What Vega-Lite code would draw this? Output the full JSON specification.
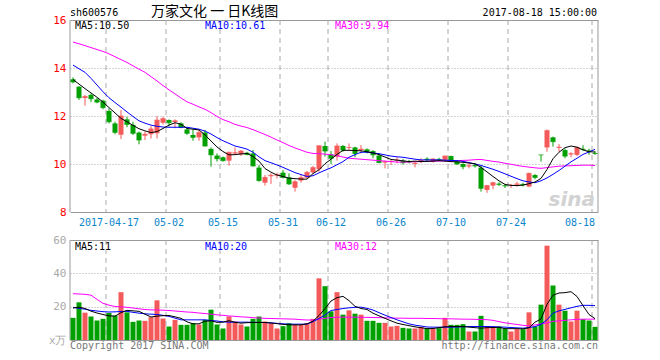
{
"$schema": "https://vega.github.io/schema/vega-lite/v6.json",
"autosize": {"type": "none"},
"padding": {"left": 70, "top": 20, "right": 62, "bottom": 20},
"background": "white",
"width": 528, "height": 320,
"config": {"view": {"stroke": null}, "font": "DejaVu Sans Mono", "text": {"font": "DejaVu Sans Mono", "fontSize": 10}},
"datasets": {
"g": [{"d":"2017-04-17"},{"d":"2017-05-02"},{"d":"2017-05-15"},{"d":"2017-05-31"},{"d":"2017-06-12"},{"d":"2017-06-26"},{"d":"2017-07-10"},{"d":"2017-07-24"},{"d":"2017-08-18"}],
"k": [
{"d":"2017-04-07","o":13.53,"h":13.61,"l":13.36,"c":13.42,"m5":13.52,"m10":14.12,"m30":15.08,"v":13.3,"v5":19.2,"v10":19.6,"v30":27.8},
{"d":"2017-04-10","o":13.22,"h":13.25,"l":12.67,"c":12.76,"m5":13.33,"m10":13.97,"m30":15.01,"v":22.6,"v5":19.7,"v10":19.0,"v30":27.6},
{"d":"2017-04-11","o":12.75,"h":12.88,"l":12.43,"c":12.81,"m5":13.14,"m10":13.82,"m30":14.93,"v":16.4,"v5":18.9,"v10":18.5,"v30":27.4},
{"d":"2017-04-12","o":12.88,"h":12.94,"l":12.58,"c":12.72,"m5":12.96,"m10":13.57,"m30":14.85,"v":14.1,"v5":17.3,"v10":17.8,"v30":26.9},
{"d":"2017-04-13","o":12.69,"h":12.75,"l":12.53,"c":12.58,"m5":12.78,"m10":13.29,"m30":14.77,"v":11.7,"v5":16.2,"v10":17.4,"v30":24.4},
{"d":"2017-04-14","o":12.64,"h":12.68,"l":12.28,"c":12.35,"m5":12.58,"m10":13.01,"m30":14.69,"v":12.7,"v5":15.3,"v10":17.0,"v30":22.0},
{"d":"2017-04-17","o":12.21,"h":12.32,"l":11.69,"c":11.76,"m5":12.35,"m10":12.76,"m30":14.59,"v":16.2,"v5":14.5,"v10":16.8,"v30":20.9},
{"d":"2017-04-18","o":11.69,"h":11.76,"l":11.24,"c":11.32,"m5":12.13,"m10":12.56,"m30":14.47,"v":14.7,"v5":14.3,"v10":16.9,"v30":20.1},
{"d":"2017-04-19","o":11.22,"h":12.25,"l":11.04,"c":12.00,"m5":11.90,"m10":12.37,"m30":14.35,"v":28.7,"v5":16.4,"v10":17.1,"v30":19.9},
{"d":"2017-04-20","o":11.86,"h":11.97,"l":11.53,"c":11.65,"m5":11.76,"m10":12.17,"m30":14.23,"v":16.6,"v5":17.8,"v10":17.2,"v30":19.6},
{"d":"2017-04-21","o":11.63,"h":11.76,"l":11.21,"c":11.28,"m5":11.61,"m10":11.98,"m30":14.09,"v":10.9,"v5":17.5,"v10":16.6,"v30":19.2},
{"d":"2017-04-24","o":11.31,"h":11.35,"l":10.82,"c":11.00,"m5":11.47,"m10":11.80,"m30":13.95,"v":11.7,"v5":17.2,"v10":16.1,"v30":18.7},
{"d":"2017-04-25","o":11.18,"h":11.35,"l":11.00,"c":11.24,"m5":11.38,"m10":11.70,"m30":13.82,"v":11.5,"v5":15.5,"v10":15.7,"v30":18.3},
{"d":"2017-04-26","o":11.24,"h":11.58,"l":11.06,"c":11.46,"m5":11.31,"m10":11.62,"m30":13.64,"v":13.7,"v5":13.8,"v10":15.5,"v30":18.1},
{"d":"2017-04-27","o":11.28,"h":12.00,"l":11.06,"c":11.83,"m5":11.35,"m10":11.57,"m30":13.46,"v":23.8,"v5":14.3,"v10":15.3,"v30":18.0},
{"d":"2017-04-28","o":11.72,"h":11.97,"l":11.65,"c":11.89,"m5":11.48,"m10":11.54,"m30":13.27,"v":12.9,"v5":14.6,"v10":14.8,"v30":17.9},
{"d":"2017-05-02","o":11.83,"h":11.86,"l":11.56,"c":11.72,"m5":11.62,"m10":11.53,"m30":13.09,"v":8.1,"v5":14.7,"v10":14.2,"v30":17.7},
{"d":"2017-05-03","o":11.75,"h":11.86,"l":11.49,"c":11.80,"m5":11.72,"m10":11.53,"m30":12.92,"v":12.1,"v5":13.9,"v10":13.1,"v30":17.4},
{"d":"2017-05-04","o":11.69,"h":11.74,"l":11.49,"c":11.53,"m5":11.66,"m10":11.53,"m30":12.75,"v":9.1,"v5":13.0,"v10":12.1,"v30":17.1},
{"d":"2017-05-05","o":11.44,"h":11.53,"l":11.21,"c":11.28,"m5":11.48,"m10":11.53,"m30":12.59,"v":9.1,"v5":10.9,"v10":12.1,"v30":16.8},
{"d":"2017-05-08","o":11.21,"h":11.44,"l":10.97,"c":11.11,"m5":11.45,"m10":11.49,"m30":12.49,"v":10.1,"v5":9.7,"v10":12.1,"v30":16.6},
{"d":"2017-05-09","o":11.11,"h":11.44,"l":10.97,"c":11.31,"m5":11.42,"m10":11.45,"m30":12.38,"v":9.3,"v5":9.7,"v10":12.1,"v30":16.2},
{"d":"2017-05-10","o":11.31,"h":11.42,"l":10.72,"c":10.75,"m5":11.21,"m10":11.37,"m30":12.28,"v":12.1,"v5":11.3,"v10":12.1,"v30":15.9},
{"d":"2017-05-11","o":10.63,"h":10.69,"l":9.89,"c":10.38,"m5":10.96,"m10":11.25,"m30":12.14,"v":18.2,"v5":11.5,"v10":11.7,"v30":15.5},
{"d":"2017-05-12","o":10.35,"h":10.44,"l":10.10,"c":10.22,"m5":10.71,"m10":11.10,"m30":11.98,"v":9.3,"v5":10.6,"v10":11.4,"v30":15.1},
{"d":"2017-05-15","o":10.28,"h":10.31,"l":10.10,"c":10.14,"m5":10.52,"m10":10.97,"m30":11.85,"v":6.9,"v5":10.7,"v10":10.9,"v30":14.8},
{"d":"2017-05-16","o":10.14,"h":10.51,"l":9.93,"c":10.49,"m5":10.38,"m10":10.86,"m30":11.76,"v":14.1,"v5":11.6,"v10":10.7,"v30":14.4},
{"d":"2017-05-17","o":10.44,"h":10.69,"l":10.38,"c":10.47,"m5":10.39,"m10":10.75,"m30":11.65,"v":11.1,"v5":10.6,"v10":10.7,"v30":14.2},
{"d":"2017-05-18","o":10.40,"h":10.58,"l":10.33,"c":10.54,"m5":10.42,"m10":10.69,"m30":11.58,"v":9.3,"v5":10.1,"v10":10.7,"v30":13.9},
{"d":"2017-05-19","o":10.47,"h":10.51,"l":10.36,"c":10.40,"m5":10.44,"m10":10.62,"m30":11.52,"v":8.1,"v5":10.4,"v10":10.7,"v30":13.7},
{"d":"2017-05-22","o":10.44,"h":10.58,"l":9.89,"c":9.92,"m5":10.31,"m10":10.49,"m30":11.43,"v":12.7,"v5":10.5,"v10":10.6,"v30":13.4},
{"d":"2017-05-23","o":9.85,"h":9.96,"l":9.26,"c":9.31,"m5":10.12,"m10":10.30,"m30":11.33,"v":14.1,"v5":10.5,"v10":10.6,"v30":13.2},
{"d":"2017-05-24","o":9.22,"h":9.54,"l":9.10,"c":9.44,"m5":9.81,"m10":10.14,"m30":11.23,"v":11.1,"v5":10.5,"v10":10.5,"v30":13.0},
{"d":"2017-05-25","o":9.49,"h":9.61,"l":9.17,"c":9.53,"m5":9.66,"m10":10.05,"m30":11.12,"v":10.1,"v5":10.2,"v10":10.3,"v30":12.9},
{"d":"2017-05-26","o":9.52,"h":9.64,"l":9.40,"c":9.55,"m5":9.54,"m10":9.96,"m30":11.00,"v":6.9,"v5":9.8,"v10":10.0,"v30":12.8},
{"d":"2017-05-31","o":9.64,"h":9.75,"l":9.40,"c":9.44,"m5":9.48,"m10":9.86,"m30":10.89,"v":8.3,"v5":9.4,"v10":9.7,"v30":12.7},
{"d":"2017-06-01","o":9.44,"h":9.61,"l":9.13,"c":9.17,"m5":9.41,"m10":9.75,"m30":10.77,"v":10.1,"v5":9.1,"v10":9.5,"v30":12.6},
{"d":"2017-06-02","o":9.01,"h":9.33,"l":8.85,"c":9.26,"m5":9.39,"m10":9.64,"m30":10.67,"v":9.1,"v5":9.1,"v10":9.5,"v30":12.5},
{"d":"2017-06-05","o":9.31,"h":9.54,"l":9.22,"c":9.43,"m5":9.37,"m10":9.56,"m30":10.58,"v":9.1,"v5":9.1,"v10":9.5,"v30":12.2},
{"d":"2017-06-06","o":9.43,"h":9.71,"l":9.40,"c":9.65,"m5":9.37,"m10":9.48,"m30":10.49,"v":10.1,"v5":9.7,"v10":9.5,"v30":12.0},
{"d":"2017-06-07","o":9.65,"h":9.92,"l":9.58,"c":9.85,"m5":9.60,"m10":9.51,"m30":10.44,"v":12.7,"v5":11.3,"v10":11.0,"v30":12.0},
{"d":"2017-06-08","o":9.78,"h":10.77,"l":9.68,"c":10.76,"m5":9.76,"m10":9.63,"m30":10.43,"v":37.0,"v5":14.7,"v10":12.9,"v30":12.5},
{"d":"2017-06-09","o":10.75,"h":10.93,"l":10.31,"c":10.54,"m5":10.01,"m10":9.74,"m30":10.41,"v":32.3,"v5":18.8,"v10":15.0,"v30":13.0},
{"d":"2017-06-12","o":10.40,"h":10.54,"l":10.00,"c":10.24,"m5":10.20,"m10":9.84,"m30":10.39,"v":17.2,"v5":23.4,"v10":17.7,"v30":13.4},
{"d":"2017-06-13","o":10.31,"h":10.86,"l":10.14,"c":10.75,"m5":10.40,"m10":9.97,"m30":10.34,"v":28.7,"v5":25.4,"v10":18.3,"v30":13.7},
{"d":"2017-06-14","o":10.75,"h":10.79,"l":10.51,"c":10.58,"m5":10.57,"m10":10.10,"m30":10.29,"v":15.2,"v5":26.2,"v10":18.9,"v30":13.7},
{"d":"2017-06-15","o":10.67,"h":10.86,"l":10.58,"c":10.69,"m5":10.57,"m10":10.28,"m30":10.24,"v":17.8,"v5":23.6,"v10":19.3,"v30":13.7},
{"d":"2017-06-16","o":10.69,"h":10.72,"l":10.28,"c":10.44,"m5":10.56,"m10":10.39,"m30":10.22,"v":15.8,"v5":20.2,"v10":19.6,"v30":13.7},
{"d":"2017-06-19","o":10.58,"h":10.79,"l":10.44,"c":10.62,"m5":10.55,"m10":10.49,"m30":10.20,"v":15.2,"v5":18.9,"v10":19.7,"v30":13.6},
{"d":"2017-06-20","o":10.61,"h":10.65,"l":10.44,"c":10.52,"m5":10.51,"m10":10.49,"m30":10.18,"v":11.5,"v5":18.3,"v10":19.0,"v30":13.6},
{"d":"2017-06-21","o":10.54,"h":10.58,"l":10.24,"c":10.38,"m5":10.46,"m10":10.46,"m30":10.16,"v":11.5,"v5":16.1,"v10":18.0,"v30":13.5},
{"d":"2017-06-22","o":10.35,"h":10.44,"l":10.03,"c":10.06,"m5":10.39,"m10":10.43,"m30":10.14,"v":10.3,"v5":14.5,"v10":16.4,"v30":13.4},
{"d":"2017-06-23","o":10.06,"h":10.14,"l":9.82,"c":10.10,"m5":10.29,"m10":10.38,"m30":10.12,"v":10.3,"v5":13.0,"v10":14.9,"v30":13.3},
{"d":"2017-06-26","o":10.09,"h":10.17,"l":9.96,"c":10.11,"m5":10.19,"m10":10.33,"m30":10.10,"v":8.1,"v5":11.5,"v10":13.5,"v30":13.2},
{"d":"2017-06-27","o":10.15,"h":10.28,"l":10.03,"c":10.17,"m5":10.16,"m10":10.30,"m30":10.08,"v":8.5,"v5":10.1,"v10":12.1,"v30":13.1},
{"d":"2017-06-28","o":10.14,"h":10.21,"l":9.98,"c":10.05,"m5":10.13,"m10":10.28,"m30":10.08,"v":7.3,"v5":9.3,"v10":10.9,"v30":13.1},
{"d":"2017-06-29","o":10.12,"h":10.17,"l":10.03,"c":10.08,"m5":10.10,"m10":10.24,"m30":10.08,"v":6.9,"v5":8.6,"v10":9.7,"v30":13.0},
{"d":"2017-06-30","o":10.01,"h":10.10,"l":9.86,"c":10.04,"m5":10.12,"m10":10.20,"m30":10.10,"v":6.9,"v5":7.9,"v10":8.9,"v30":13.0},
{"d":"2017-07-03","o":10.12,"h":10.24,"l":10.04,"c":10.16,"m5":10.10,"m10":10.17,"m30":10.10,"v":7.9,"v5":7.4,"v10":8.4,"v30":13.0},
{"d":"2017-07-04","o":10.22,"h":10.28,"l":10.10,"c":10.18,"m5":10.11,"m10":10.17,"m30":10.11,"v":6.9,"v5":6.8,"v10":7.8,"v30":12.9},
{"d":"2017-07-05","o":10.10,"h":10.24,"l":10.06,"c":10.21,"m5":10.12,"m10":10.17,"m30":10.12,"v":6.7,"v5":6.9,"v10":7.7,"v30":12.9},
{"d":"2017-07-06","o":10.21,"h":10.26,"l":10.13,"c":10.19,"m5":10.14,"m10":10.17,"m30":10.12,"v":7.1,"v5":7.4,"v10":7.7,"v30":12.8},
{"d":"2017-07-07","o":10.17,"h":10.35,"l":10.14,"c":10.33,"m5":10.12,"m10":10.16,"m30":10.13,"v":13.3,"v5":7.9,"v10":7.7,"v30":12.7},
{"d":"2017-07-10","o":10.33,"h":10.35,"l":10.10,"c":10.17,"m5":10.10,"m10":10.15,"m30":10.13,"v":9.1,"v5":8.1,"v10":7.7,"v30":12.7},
{"d":"2017-07-11","o":10.10,"h":10.14,"l":9.96,"c":10.00,"m5":10.09,"m10":10.14,"m30":10.14,"v":9.1,"v5":8.1,"v10":7.8,"v30":12.6},
{"d":"2017-07-12","o":10.00,"h":10.03,"l":9.78,"c":9.89,"m5":10.07,"m10":10.11,"m30":10.15,"v":9.5,"v5":8.1,"v10":7.9,"v30":12.5},
{"d":"2017-07-13","o":9.90,"h":10.03,"l":9.82,"c":9.93,"m5":10.04,"m10":10.06,"m30":10.16,"v":5.1,"v5":7.7,"v10":8.1,"v30":12.5},
{"d":"2017-07-14","o":9.95,"h":10.03,"l":9.85,"c":9.92,"m5":10.01,"m10":10.00,"m30":10.18,"v":5.1,"v5":7.4,"v10":8.1,"v30":12.4},
{"d":"2017-07-17","o":9.85,"h":9.92,"l":8.85,"c":8.99,"m5":9.86,"m10":9.94,"m30":10.19,"v":14.5,"v5":7.1,"v10":8.1,"v30":12.3},
{"d":"2017-07-18","o":8.92,"h":9.13,"l":8.80,"c":9.10,"m5":9.67,"m10":9.86,"m30":10.15,"v":8.1,"v5":7.4,"v10":8.1,"v30":12.2},
{"d":"2017-07-19","o":9.10,"h":9.26,"l":8.95,"c":9.22,"m5":9.48,"m10":9.78,"m30":10.11,"v":8.1,"v5":7.5,"v10":8.0,"v30":11.8},
{"d":"2017-07-20","o":9.18,"h":9.24,"l":9.08,"c":9.15,"m5":9.30,"m10":9.69,"m30":10.08,"v":8.1,"v5":7.6,"v10":7.8,"v30":11.0},
{"d":"2017-07-21","o":9.11,"h":9.15,"l":9.00,"c":9.09,"m5":9.15,"m10":9.59,"m30":10.03,"v":6.7,"v5":6.8,"v10":7.7,"v30":10.3},
{"d":"2017-07-24","o":9.09,"h":9.17,"l":9.00,"c":9.11,"m5":9.11,"m10":9.49,"m30":9.99,"v":5.1,"v5":6.8,"v10":7.5,"v30":9.8},
{"d":"2017-07-25","o":9.14,"h":9.26,"l":9.06,"c":9.17,"m5":9.10,"m10":9.39,"m30":9.94,"v":6.5,"v5":6.8,"v10":7.3,"v30":9.3},
{"d":"2017-07-26","o":9.17,"h":9.22,"l":9.06,"c":9.14,"m5":9.12,"m10":9.30,"m30":9.90,"v":6.5,"v5":6.7,"v10":7.1,"v30":8.8},
{"d":"2017-07-27","o":9.06,"h":9.64,"l":9.03,"c":9.61,"m5":9.18,"m10":9.25,"m30":9.87,"v":16.6,"v5":7.3,"v10":7.5,"v30":8.5},
{"d":"2017-07-28","o":9.54,"h":9.58,"l":9.36,"c":9.44,"m5":9.25,"m10":9.22,"m30":9.84,"v":8.1,"v5":10.7,"v10":8.0,"v30":9.0},
{"d":"2017-08-07","o":10.38,"h":10.38,"l":10.10,"c":10.38,"m5":9.40,"m10":9.30,"m30":9.82,"v":21.2,"v5":12.6,"v10":9.4,"v30":9.7},
{"d":"2017-08-08","o":10.69,"h":11.44,"l":10.51,"c":11.39,"m5":9.77,"m10":9.42,"m30":9.85,"v":56.6,"v5":21.4,"v10":12.1,"v30":10.2},
{"d":"2017-08-09","o":11.11,"h":11.14,"l":10.72,"c":10.93,"m5":10.22,"m10":9.57,"m30":9.88,"v":32.7,"v5":26.9,"v10":16.1,"v30":11.2},
{"d":"2017-08-10","o":10.67,"h":10.83,"l":10.51,"c":10.70,"m5":10.49,"m10":9.73,"m30":9.91,"v":21.2,"v5":28.2,"v10":17.5,"v30":11.5},
{"d":"2017-08-11","o":10.58,"h":10.65,"l":10.24,"c":10.33,"m5":10.68,"m10":9.91,"m30":9.92,"v":17.6,"v5":28.4,"v10":18.4,"v30":11.8},
{"d":"2017-08-14","o":10.40,"h":10.49,"l":10.28,"c":10.43,"m5":10.75,"m10":10.09,"m30":9.93,"v":11.1,"v5":29.0,"v10":19.3,"v30":12.1},
{"d":"2017-08-15","o":10.38,"h":10.72,"l":10.33,"c":10.69,"m5":10.70,"m10":10.24,"m30":9.94,"v":17.6,"v5":26.1,"v10":20.2,"v30":12.4},
{"d":"2017-08-16","o":10.63,"h":10.78,"l":10.54,"c":10.61,"m5":10.59,"m10":10.40,"m30":9.95,"v":12.5,"v5":20.6,"v10":20.8,"v30":12.5},
{"d":"2017-08-17","o":10.56,"h":10.64,"l":10.38,"c":10.53,"m5":10.51,"m10":10.50,"m30":9.95,"v":11.7,"v5":15.3,"v10":20.8,"v30":12.5},
{"d":"2017-08-18","o":10.46,"h":10.54,"l":10.38,"c":10.44,"m5":10.50,"m10":10.61,"m30":9.94,"v":7.9,"v5":12.8,"v10":20.6,"v30":12.5}
]},
"data": {"name": "k"},
"encoding": {"x": {"field": "d", "type": "ordinal", "scale": {"type": "band", "paddingInner": 0, "paddingOuter": 0},
  "axis": {"values": ["2017-04-17","2017-05-02","2017-05-15","2017-05-31","2017-06-12","2017-06-26","2017-07-10","2017-07-24","2017-08-18"],
   "labelExpr": "datum.value == '2017-04-17' ? datum.value : slice(datum.value, 5)",
   "bandPosition": 0, "offset": -128, "ticks": false, "domain": false, "grid": false,
   "labelColor": "#0a86cc", "labelFont": "DejaVu Sans Mono", "labelFontSize": 10, "labelAngle": 0, "labelPadding": 5, "title": null,
   "labelAlign": {"condition": {"test": "datum.value == '2017-08-18'", "value": "right"}, "value": "center"}}}},
"layer": [
{
"layer": [
 {"data": {"name": "g"}, "mark": {"type": "rule", "color": "#aaa", "strokeDash": [5, 4]},
  "encoding": {"x": {"field": "d", "type": "ordinal", "bandPosition": 0},
   "y": {"datum": 16, "type": "quantitative", "scale": {"domain": [2.6667, 16], "zero": false, "nice": false},
     "axis": {"orient": "left", "values": [8, 10, 12, 14, 16], "ticks": false, "domain": false, "grid": true,
      "gridDash": {"condition": {"test": "datum.value == 8 || datum.value == 16", "value": []}, "value": [1, 2]},
      "gridColor": {"condition": {"test": "datum.value == 8 || datum.value == 16", "value": "#999"}, "value": "#aaa"},
      "labelColor": "#ff0000", "labelFont": "DejaVu Sans Mono", "labelFontSize": 11, "labelPadding": 4, "title": null}},
   "y2": {"datum": 8}}},
 {"data": {"values": [{}]}, "mark": {"type": "rule", "color": "#999"}, "encoding": {"x": {"datum": "2017-04-07", "type": "ordinal", "bandPosition": 0}, "y": {"datum": 16, "type": "quantitative"}, "y2": {"datum": 8}}},
 {"data": {"values": [{}]}, "mark": {"type": "rule", "color": "#999"}, "encoding": {"x": {"datum": "2017-08-18", "type": "ordinal", "bandPosition": 1}, "y": {"datum": 16, "type": "quantitative"}, "y2": {"datum": 8}}},
 {"mark": {"type": "rule", "strokeWidth": 1},
  "encoding": {"y": {"field": "l", "type": "quantitative"}, "y2": {"field": "h"},
   "color": {"condition": {"test": "datum.c > datum.o", "value": "#f55a5a"}, "value": "#00a000"}}},
 {"mark": {"type": "bar", "size": 5},
  "encoding": {"y": {"field": "o", "type": "quantitative"}, "y2": {"field": "c"},
   "color": {"condition": {"test": "datum.c > datum.o", "value": "#f55a5a"}, "value": "#00a000"}}},
 {"mark": {"type": "tick", "size": 5, "thickness": 1},
  "encoding": {"y": {"field": "c", "type": "quantitative"},
   "color": {"condition": {"test": "datum.c > datum.o", "value": "#f55a5a"}, "value": "#00a000"}}},
 {"mark": {"type": "line", "strokeWidth": 1, "color": "#ff00ff"}, "encoding": {"y": {"field": "m30", "type": "quantitative"}}},
 {"mark": {"type": "line", "strokeWidth": 1, "color": "#0000ff"}, "encoding": {"y": {"field": "m10", "type": "quantitative"}}},
 {"mark": {"type": "line", "strokeWidth": 1, "color": "#000000"}, "encoding": {"y": {"field": "m5", "type": "quantitative"}}},
 {"data": {"values": [{"t": "MA5:10.50"}]}, "mark": {"type": "text", "align": "left", "baseline": "middle", "dx": 2, "color": "#000"},
  "encoding": {"x": {"datum": "2017-04-07", "type": "ordinal"}, "y": {"datum": 15.75, "type": "quantitative"}, "text": {"field": "t"}}},
 {"data": {"values": [{"t": "MA10:10.61"}]}, "mark": {"type": "text", "align": "left", "baseline": "middle", "dx": 0, "color": "#0000ff"},
  "encoding": {"x": {"datum": "2017-05-10", "type": "ordinal"}, "y": {"datum": 15.75, "type": "quantitative"}, "text": {"field": "t"}}},
 {"data": {"values": [{"t": "MA30:9.94"}]}, "mark": {"type": "text", "align": "left", "baseline": "middle", "dx": -2, "color": "#ff00ff"},
  "encoding": {"x": {"datum": "2017-06-13", "type": "ordinal"}, "y": {"datum": 15.75, "type": "quantitative"}, "text": {"field": "t"}}},
 {"data": {"values": [{"t": "sh600576"}]}, "mark": {"type": "text", "align": "left", "baseline": "middle", "dx": -3, "color": "#000"},
  "encoding": {"x": {"datum": "2017-04-07", "type": "ordinal"}, "y": {"datum": 16.29, "type": "quantitative"}, "text": {"field": "t"}}},
 {"data": {"values": [{"t": "万家文化 一 日K线图"}]}, "mark": {"type": "text", "align": "left", "baseline": "middle", "font": "Noto Sans CJK SC", "fontSize": 14, "color": "#000"},
  "encoding": {"x": {"datum": "2017-04-26", "type": "ordinal"}, "y": {"datum": 16.34, "type": "quantitative"}, "text": {"field": "t"}}},
 {"data": {"values": [{"t": "2017-08-18 15:00:00"}]}, "mark": {"type": "text", "align": "right", "baseline": "middle", "dx": 2, "color": "#000"},
  "encoding": {"x": {"datum": "2017-08-18", "type": "ordinal"}, "y": {"datum": 16.29, "type": "quantitative"}, "text": {"field": "t"}}},
 {"data": {"values": [{"t": "sina"}]}, "mark": {"type": "text", "align": "right", "baseline": "middle", "font": "DejaVu Sans", "fontSize": 20, "fontStyle": "italic", "fontWeight": "bold", "color": "#d2d2d2"},
  "encoding": {"x": {"datum": "2017-08-18", "type": "ordinal"}, "y": {"datum": 8.5, "type": "quantitative"}, "text": {"field": "t"}}}
]
},
{
"layer": [
 {"data": {"name": "g"}, "mark": {"type": "rule", "color": "#aaa", "strokeDash": [5, 4]},
  "encoding": {"x": {"field": "d", "type": "ordinal", "bandPosition": 0},
   "y": {"datum": 60, "type": "quantitative", "scale": {"domain": [0, 192], "zero": true, "nice": false},
     "axis": {"orient": "left", "values": [0, 20, 40, 60], "labelExpr": "datum.value == 0 ? 'x万' : datum.label", "ticks": false, "domain": false, "grid": true,
      "gridDash": {"condition": {"test": "datum.value == 0 || datum.value == 60", "value": []}, "value": [1, 2]},
      "gridColor": {"condition": {"test": "datum.value == 0 || datum.value == 60", "value": "#999"}, "value": "#aaa"},
      "labelColor": "#aaaaaa", "labelFont": "DejaVu Sans Mono", "labelFontSize": 11, "labelPadding": 4, "title": null}},
   "y2": {"datum": 0}}},
 {"data": {"values": [{}]}, "mark": {"type": "rule", "color": "#999"}, "encoding": {"x": {"datum": "2017-04-07", "type": "ordinal", "bandPosition": 0}, "y": {"datum": 60, "type": "quantitative"}, "y2": {"datum": 0}}},
 {"data": {"values": [{}]}, "mark": {"type": "rule", "color": "#999"}, "encoding": {"x": {"datum": "2017-08-18", "type": "ordinal", "bandPosition": 1}, "y": {"datum": 60, "type": "quantitative"}, "y2": {"datum": 0}}},
 {"mark": {"type": "bar", "size": 5},
  "encoding": {"y": {"field": "v", "type": "quantitative"},
   "color": {"condition": {"test": "datum.c > datum.o", "value": "#f55a5a"}, "value": "#00a000"}}},
 {"mark": {"type": "line", "strokeWidth": 1, "color": "#ff00ff"}, "encoding": {"y": {"field": "v30", "type": "quantitative"}}},
 {"mark": {"type": "line", "strokeWidth": 1, "color": "#0000ff"}, "encoding": {"y": {"field": "v10", "type": "quantitative"}}},
 {"mark": {"type": "line", "strokeWidth": 1, "color": "#000000"}, "encoding": {"y": {"field": "v5", "type": "quantitative"}}},
 {"data": {"values": [{"t": "MA5:11"}]}, "mark": {"type": "text", "align": "left", "baseline": "middle", "dx": 2, "color": "#000"},
  "encoding": {"x": {"datum": "2017-04-07", "type": "ordinal"}, "y": {"datum": 56.1, "type": "quantitative"}, "text": {"field": "t"}}},
 {"data": {"values": [{"t": "MA10:20"}]}, "mark": {"type": "text", "align": "left", "baseline": "middle", "dx": 0, "color": "#0000ff"},
  "encoding": {"x": {"datum": "2017-05-10", "type": "ordinal"}, "y": {"datum": 56.1, "type": "quantitative"}, "text": {"field": "t"}}},
 {"data": {"values": [{"t": "MA30:12"}]}, "mark": {"type": "text", "align": "left", "baseline": "middle", "dx": -2, "color": "#ff00ff"},
  "encoding": {"x": {"datum": "2017-06-13", "type": "ordinal"}, "y": {"datum": 56.1, "type": "quantitative"}, "text": {"field": "t"}}},
 {"data": {"values": [{"t": "Copyright 2017 SINA.COM"}]}, "mark": {"type": "text", "align": "left", "baseline": "middle", "dx": -3, "color": "#777"},
  "encoding": {"x": {"datum": "2017-04-07", "type": "ordinal"}, "y": {"datum": -3.3, "type": "quantitative"}, "text": {"field": "t"}}},
 {"data": {"values": [{"t": "http://finance.sina.com.cn"}]}, "mark": {"type": "text", "align": "right", "baseline": "middle", "dx": 3, "color": "#777"},
  "encoding": {"x": {"datum": "2017-08-18", "type": "ordinal"}, "y": {"datum": -3.3, "type": "quantitative"}, "text": {"field": "t"}}}
]
}
],
"resolve": {"scale": {"y": "independent"}, "axis": {"y": "independent"}}
}
